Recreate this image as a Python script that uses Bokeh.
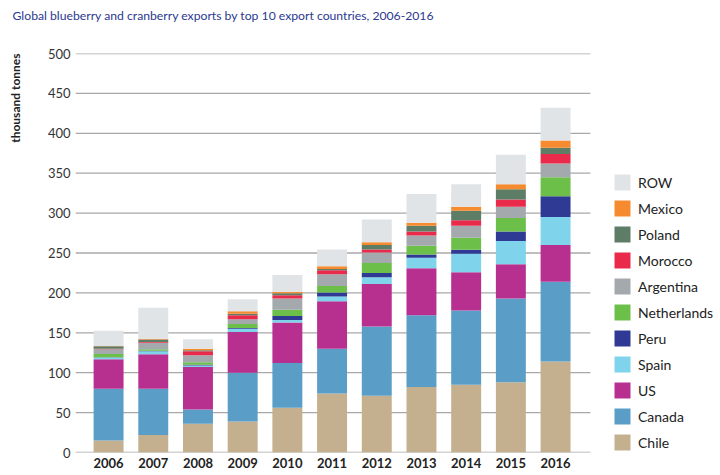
import math
from bokeh.plotting import figure
from bokeh.models import (Legend, LegendItem, FixedTicker, Range1d,
                          ColumnDataSource, Title)
from bokeh.embed import file_html
from bokeh.resources import INLINE

years = [2006, 2007, 2008, 2009, 2010, 2011, 2012, 2013, 2014, 2015, 2016]
year_labels = [str(y) for y in years]
y_ticks = [0, 50, 100, 150, 200, 250, 300, 350, 400, 450, 500]

chile       = [15, 22, 36, 39, 56, 74, 71, 82, 85, 88, 114]
canada      = [65, 58, 18, 61, 56, 56, 87, 90, 93, 105, 100]
us          = [37, 43, 53, 51, 51, 59.5, 53, 59, 48, 43, 46]
spain       = [2, 4, 2, 4, 3, 6, 8.5, 13, 23, 29, 35]
peru        = [0.5, 0.5, 1, 1, 5, 5, 5.5, 4, 5, 12, 26]
netherlands = [4, 2, 3, 5, 8, 8, 12.5, 11, 15, 17, 24]
argentina   = [6, 8, 9, 6, 14, 15, 13, 13, 15, 14, 17]
morocco     = [0.5, 1, 5, 5, 4, 5, 4, 5, 7, 9, 12]
poland      = [3, 3, 1, 2, 2.5, 1.5, 5.5, 7, 12, 13, 8]
mexico      = [0.5, 1, 2, 3, 2, 3.5, 3.5, 4, 5, 6, 9]
row         = [19, 39, 12, 15, 21, 21, 28.5, 36, 28, 37, 41]

countries = ["Chile", "Canada", "US", "Spain", "Peru", "Netherlands",
             "Argentina", "Morocco", "Poland", "Mexico", "ROW"]
series = [chile, canada, us, spain, peru, netherlands, argentina, morocco,
          poland, mexico, row]
colors = ["#c4b08e", "#5a9ec8", "#b8308f", "#7fd3ea", "#2e3a94", "#6cc04a",
          "#a4a9ae", "#ea2a4b", "#5e7d66", "#f58a2e", "#e0e4e6"]

data = {"year": years}
for c, s in zip(countries, series):
    data[c] = s
source = ColumnDataSource(data)

FONT = "Lato"
X_START, X_GRID_END, X_END = 2005.26, 2016.78, 2019.69

p = figure(width=720, height=475,
           x_range=Range1d(X_START, X_END), y_range=Range1d(0, 500),
           output_backend="svg", toolbar_location=None,
           min_border_left=75, min_border_right=0,
           min_border_top=53, min_border_bottom=23)
p.outline_line_color = None
p.background_fill_color = "white"

# horizontal grid lines, limited to the bar area
p.xgrid.grid_line_color = None
p.ygrid.grid_line_color = None
p.segment(x0=X_START, x1=X_GRID_END, y0=y_ticks, y1=y_ticks,
          line_color="#a8a8a8", line_width=1.3)

renderers = p.vbar_stack(countries, x="year", width=0.67, fill_color=colors,
                         line_color=None, source=source)

# real title (outermost) and a spacer next to the frame
p.title.text = "Global blueberry and cranberry exports by top 10 export countries, 2006-2016"
p.title.align = "left"
p.title.offset = -63
p.title.text_font = FONT
p.title.text_font_size = "12.2px"
p.title.text_font_style = "normal"
p.title.text_color = "#2b3990"
spacer = Title(text=" ", text_font_size="12px")
p.add_layout(spacer, "above")

# axes
p.xaxis.ticker = FixedTicker(ticks=years)
p.xaxis.major_label_overrides = {y: l for y, l in zip(years, year_labels)}
p.xaxis.axis_line_color = None
p.xaxis.major_tick_line_color = None
p.xaxis.minor_tick_line_color = None
p.xaxis.major_tick_out = 0
p.xaxis.major_tick_in = 0
p.xaxis.major_label_text_font = FONT
p.xaxis.major_label_text_font_size = "13px"
p.xaxis.major_label_text_font_style = "bold"
p.xaxis.major_label_text_color = "#222222"
p.xaxis.major_label_standoff = 5

p.yaxis.ticker = FixedTicker(ticks=y_ticks)
p.yaxis.axis_line_color = None
p.yaxis.major_tick_line_color = None
p.yaxis.minor_tick_line_color = None
p.yaxis.major_tick_out = 0
p.yaxis.major_tick_in = 0
p.yaxis.major_label_text_font = FONT
p.yaxis.major_label_text_font_size = "13px"
p.yaxis.major_label_text_color = "#333333"
p.yaxis.major_label_standoff = 5

# small spacer between the tick labels and the rotated unit label
yspacer = Title(text=" ", text_font_size="4px")
p.add_layout(yspacer, "left")
ytitle = Title(text="thousand tonnes", align="right",
               text_font=FONT, text_font_size="12px",
               text_font_style="bold", text_color="#222222")
p.add_layout(ytitle, "left")

items = [LegendItem(label=c, renderers=[r])
         for c, r in reversed(list(zip(countries, renderers)))]
legend = Legend(items=items, location=(537, 0), margin=0, padding=0,
                glyph_width=20, glyph_height=20, label_height=20,
                spacing=6, label_standoff=6,
                label_text_font=FONT,
                label_text_font_size="14px", label_text_color="#222222",
                border_line_color=None, background_fill_alpha=0)
p.add_layout(legend)

open("out.html", "w").write(file_html(p, INLINE))
